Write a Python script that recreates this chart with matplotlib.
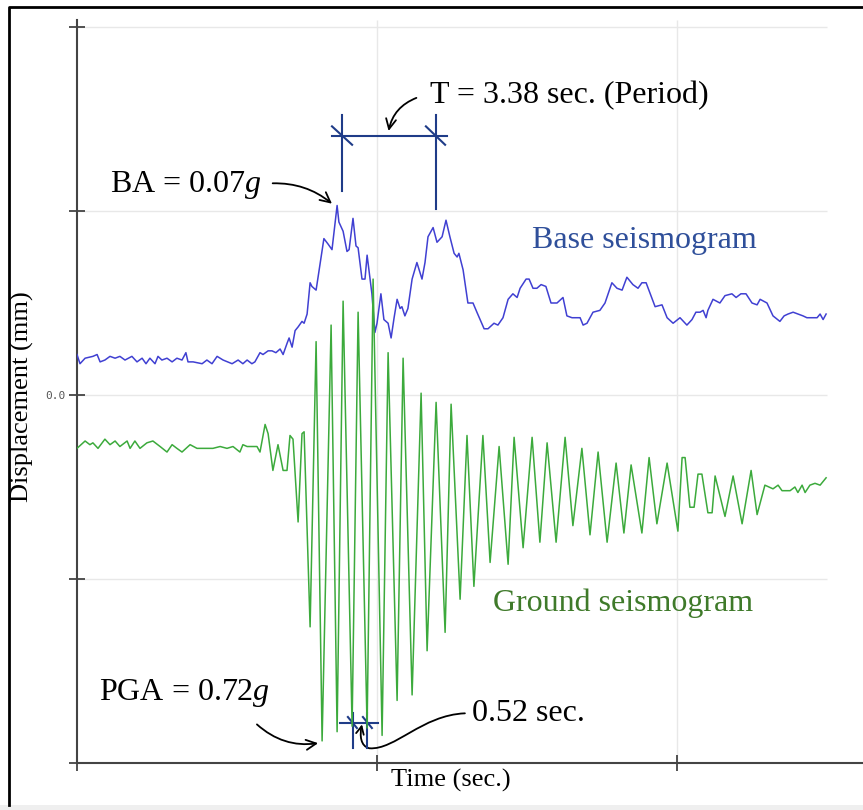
import numpy as np
import matplotlib
matplotlib.use("Agg")
import matplotlib.pyplot as plt
from matplotlib.patches import Rectangle, FancyArrowPatch
from matplotlib.lines import Line2D
from matplotlib.path import Path

plt.rcParams['font.family'] = ['Liberation Serif', 'DejaVu Serif']
plt.rcParams['mathtext.fontset'] = 'custom'
plt.rcParams['mathtext.rm'] = 'Liberation Serif'
plt.rcParams['mathtext.it'] = 'Liberation Serif:italic'

# Base seismogram (time in s, displacement)
t_base = [0.00, 0.10, 0.27, 0.53, 0.67, 0.77, 0.93, 1.10, 1.27, 1.43, 1.60, 1.83, 2.00, 2.17,
          2.30, 2.43, 2.60, 2.70, 2.83, 3.00, 3.17, 3.33, 3.50, 3.63, 3.70, 3.87, 4.17, 4.33,
          4.50, 4.67, 4.87, 5.17, 5.37, 5.53, 5.67, 5.83, 5.93, 6.10, 6.20, 6.37, 6.50, 6.63,
          6.77, 6.87, 7.00, 7.07, 7.17, 7.27, 7.37, 7.50, 7.57, 7.67, 7.77, 7.83, 7.97, 8.10,
          8.23, 8.37, 8.50, 8.60, 8.67, 8.73, 8.87, 9.00, 9.07, 9.20, 9.30, 9.37, 9.50, 9.60,
          9.67, 9.73, 9.83, 9.93, 10.00, 10.13, 10.23, 10.37, 10.47, 10.57, 10.67, 10.77, 10.83,
          10.93, 11.03, 11.17, 11.33, 11.50, 11.60, 11.70, 11.87, 12.00, 12.17, 12.30, 12.43,
          12.57, 12.67, 12.73, 12.87, 13.03, 13.20, 13.33, 13.57, 13.70, 13.90, 14.03, 14.20,
          14.37, 14.53, 14.67, 14.77, 14.97, 15.07, 15.20, 15.33, 15.47, 15.63, 15.80, 16.00,
          16.20, 16.33, 16.50, 16.77, 16.87, 17.00, 17.20, 17.43, 17.60, 17.83, 18.00, 18.17,
          18.33, 18.53, 18.70, 18.83, 18.97, 19.27, 19.50, 19.67, 19.87, 20.10, 20.33, 20.50,
          20.63, 20.77, 20.87, 20.97, 21.03, 21.20, 21.43, 21.60, 21.83, 21.97, 22.13, 22.30,
          22.50, 22.67, 22.77, 23.00, 23.20, 23.43, 23.57, 23.70, 23.87, 24.03, 24.20, 24.33,
          24.67, 24.77, 24.87, 24.97]
y_base = [0.22, 0.17, 0.20, 0.21, 0.22, 0.18, 0.19, 0.21, 0.20, 0.21, 0.19, 0.21, 0.18, 0.20,
          0.17, 0.20, 0.17, 0.21, 0.19, 0.20, 0.18, 0.20, 0.19, 0.23, 0.18, 0.18, 0.17, 0.19,
          0.17, 0.21, 0.19, 0.17, 0.19, 0.17, 0.19, 0.17, 0.18, 0.23, 0.22, 0.24, 0.24, 0.23,
          0.25, 0.22, 0.28, 0.31, 0.26, 0.35, 0.37, 0.40, 0.39, 0.44, 0.61, 0.59, 0.57, 0.71,
          0.85, 0.82, 0.79, 0.93, 1.03, 0.94, 0.89, 0.78, 0.79, 0.96, 0.81, 0.80, 0.63, 0.63,
          0.76, 0.68, 0.55, 0.34, 0.39, 0.55, 0.41, 0.39, 0.31, 0.42, 0.52, 0.47, 0.48,
          0.43, 0.47, 0.63, 0.72, 0.63, 0.72, 0.86, 0.91, 0.83, 0.86, 0.95, 0.86,
          0.77, 0.75, 0.77, 0.68, 0.50, 0.50, 0.45, 0.36, 0.36, 0.39, 0.38, 0.42,
          0.52, 0.55, 0.53, 0.58, 0.63, 0.63, 0.58, 0.58, 0.60, 0.59, 0.50, 0.50,
          0.53, 0.43, 0.42, 0.42, 0.38, 0.39, 0.45, 0.46, 0.50, 0.61, 0.58, 0.57,
          0.64, 0.60, 0.58, 0.61, 0.61, 0.48, 0.49, 0.42, 0.39, 0.42, 0.38, 0.41,
          0.45, 0.45, 0.46, 0.42, 0.46, 0.52, 0.50, 0.54, 0.55, 0.53, 0.55, 0.55,
          0.50, 0.49, 0.52, 0.50, 0.43, 0.40, 0.43, 0.44, 0.45, 0.44, 0.43, 0.42,
          0.42, 0.44, 0.41, 0.44]

# Ground seismogram (time in s, displacement)
t_ground = [0.00, 0.27, 0.43, 0.53, 0.70, 0.93, 1.10, 1.27, 1.43, 1.67, 1.77, 1.93, 2.10, 2.33,
            2.53, 2.77, 3.00, 3.17, 3.33, 3.50, 3.77, 4.00, 4.20, 4.53, 4.77, 5.00, 5.20, 5.43,
            5.53, 5.67, 6.00, 6.10, 6.27, 6.37, 6.53, 6.70, 6.87, 7.00, 7.10, 7.20, 7.37, 7.50,
            7.57, 7.77, 7.97, 8.17, 8.47, 8.67, 8.87, 9.17, 9.37, 9.67, 9.87, 10.17, 10.37,
            10.67, 10.87, 11.17, 11.47, 11.67, 11.97, 12.27, 12.47, 12.77, 13.00, 13.23, 13.53,
            13.77, 14.07, 14.37, 14.57, 14.87, 15.17, 15.43, 15.67, 15.97, 16.27, 16.53, 16.83,
            17.10, 17.37, 17.67, 17.97, 18.23, 18.47, 18.83, 19.07, 19.33, 19.67, 20.03, 20.17,
            20.27, 20.43, 20.57, 20.70, 20.83, 21.03, 21.17, 21.27, 21.60, 21.87, 22.17, 22.47,
            22.67, 22.93, 23.20, 23.37, 23.50, 23.77, 23.93, 24.03, 24.17, 24.27, 24.43, 24.60,
            24.77, 24.97]
y_ground = [-0.29, -0.25, -0.27, -0.26, -0.29, -0.24, -0.27, -0.25, -0.28, -0.25, -0.29, -0.25,
            -0.29, -0.26, -0.25, -0.28, -0.31, -0.27, -0.29, -0.31, -0.27, -0.29, -0.29, -0.29,
            -0.28, -0.29, -0.28, -0.31, -0.27, -0.28, -0.28, -0.31, -0.16, -0.21, -0.41, -0.27,
            -0.41, -0.41, -0.22, -0.24, -0.69, -0.21, -0.20, -1.26, 0.29, -1.88, 0.38, -1.83,
            0.51, -1.80, 0.45, -1.81, 0.63, -1.85, 0.23, -1.66, 0.20, -1.63, 0.01, -1.39,
            -0.04, -1.29, -0.05, -1.11, -0.22, -1.04, -0.22, -0.91, -0.28, -0.92, -0.23, -0.83,
            -0.23, -0.80, -0.26, -0.80, -0.23, -0.71, -0.29, -0.76, -0.31, -0.80, -0.37, -0.75,
            -0.38, -0.75, -0.34, -0.70, -0.37, -0.74, -0.34, -0.34, -0.61, -0.61, -0.43, -0.43,
            -0.64, -0.64, -0.44, -0.66, -0.44, -0.70, -0.41, -0.65, -0.49, -0.51, -0.49, -0.52,
            -0.52, -0.50, -0.53, -0.49, -0.53, -0.49, -0.48, -0.49, -0.45]

navy = '#1F3C88'

fig = plt.figure(figsize=(8.63, 8.10), dpi=100)

# outer frame (left and top edges) and bottom strip
fig.patches.append(Rectangle((0, 0), 1, 5 / 810, transform=fig.transFigure,
                             fc='#EFEFEF', ec='none', zorder=0))
fig.lines.append(Line2D([9 / 863, 9 / 863, 1.0], [5 / 810, 1 - 7 / 810, 1 - 7 / 810],
                        transform=fig.transFigure, color='black', lw=2))

ax = fig.add_axes([77 / 863, 47 / 810, 786 / 863, 743 / 810])
ax.set_xlim(0, 786 / 30)
ax.set_ylim(-2.0, 2.0 + 7 / 184)
ax.patch.set_alpha(0)

# grid
ax.hlines([-1, 0, 1, 2], 0, 25, color='#E8E8E8', lw=1, zorder=0)
ax.vlines([10, 20], -2, 2.04, color='#E8E8E8', lw=1, zorder=0)

ax.plot(t_base, y_base, color='#4040D2', lw=1.1, zorder=3)
ax.plot(t_ground, y_ground, color='#3CAA3C', lw=1.1, zorder=3)

for s in ['top', 'right']:
    ax.spines[s].set_visible(False)
for s in ['left', 'bottom']:
    ax.spines[s].set_color('#444444')
    ax.spines[s].set_linewidth(1.5)

ax.set_xticks([0, 10, 20])
ax.set_xticklabels([])
ax.set_yticks([-2, -1, 0, 1, 2])
ax.set_yticklabels(['', '', '0.0', '', ''], family='DejaVu Sans Mono', fontsize=8,
                   color='#555555')
ax.tick_params(axis='both', direction='inout', length=11, width=1.3, color='#444444', pad=3)

fig.text(451 / 863, 1 - 780 / 810, 'Time (sec.)', ha='center', va='center', fontsize=19)
fig.text(22 / 863, 1 - 397 / 810, 'Displacement (mm)', ha='center', va='center',
         fontsize=19, rotation=90)

# series labels
ax.text(15.17, 0.84, 'Base seismogram', color='#2F4F9A', fontsize=23, va='center')
ax.text(13.87, -1.13, 'Ground seismogram', color='#3F7A2A', fontsize=23, va='center')

# period dimension
ax.plot([8.83, 8.83], [1.52, 1.11], color=navy, lw=1.5)
ax.plot([11.97, 11.97], [1.52, 1.01], color=navy, lw=1.5)
ax.plot([8.5, 12.33], [1.41, 1.41], color=navy, lw=1.5)
ax.plot([8.5, 9.17], [1.46, 1.36], color=navy, lw=1.5)
ax.plot([11.63, 12.27], [1.46, 1.36], color=navy, lw=1.5)
ax.text(11.77, 1.63, 'T = 3.38 sec. (Period)', fontsize=23, va='center')
ax.annotate('', xy=(10.37, 1.42), xytext=(11.4, 1.62),
            arrowprops=dict(arrowstyle='->', color='black', lw=1.3,
                            connectionstyle='arc3,rad=0.3', mutation_scale=18))

# BA
ax.text(1.1, 1.14, 'BA = 0.07$g$', fontsize=23, va='center')
ax.annotate('', xy=(8.57, 1.03), xytext=(6.43, 1.15),
            arrowprops=dict(arrowstyle='->', color='black', lw=1.3,
                            connectionstyle='arc3,rad=-0.2', mutation_scale=18))

# PGA
ax.text(0.73, -1.62, 'PGA = 0.72$g$', fontsize=23, va='center')
ax.annotate('', xy=(8.13, -1.89), xytext=(5.93, -1.78),
            arrowprops=dict(arrowstyle='->', color='black', lw=1.3,
                            connectionstyle='arc3,rad=0.25', mutation_scale=18))

# 0.52 sec dimension
ax.plot([8.77, 10.03], [-1.78, -1.78], color=navy, lw=1.5)
ax.plot([9.2, 9.2], [-1.73, -1.92], color=navy, lw=1.5)
ax.plot([9.67, 9.67], [-1.73, -1.92], color=navy, lw=1.5)
ax.plot([9.03, 9.33], [-1.75, -1.81], color=navy, lw=1.5)
ax.plot([9.53, 9.83], [-1.75, -1.81], color=navy, lw=1.5)
ax.text(13.17, -1.73, '0.52 sec.', fontsize=23, va='center')
hook = Path([(12.93, -1.73), (11.5, -1.74), (10.6, -1.93), (9.75, -1.92),
             (9.45, -1.91), (9.42, -1.85), (9.5, -1.79)],
            [Path.MOVETO, Path.CURVE4, Path.CURVE4, Path.CURVE4,
             Path.CURVE4, Path.CURVE4, Path.CURVE4])
ax.add_patch(FancyArrowPatch(path=hook, arrowstyle='->', color='black', lw=1.3,
                             mutation_scale=14, transform=ax.transData))

fig.savefig('out.png', dpi=100)
